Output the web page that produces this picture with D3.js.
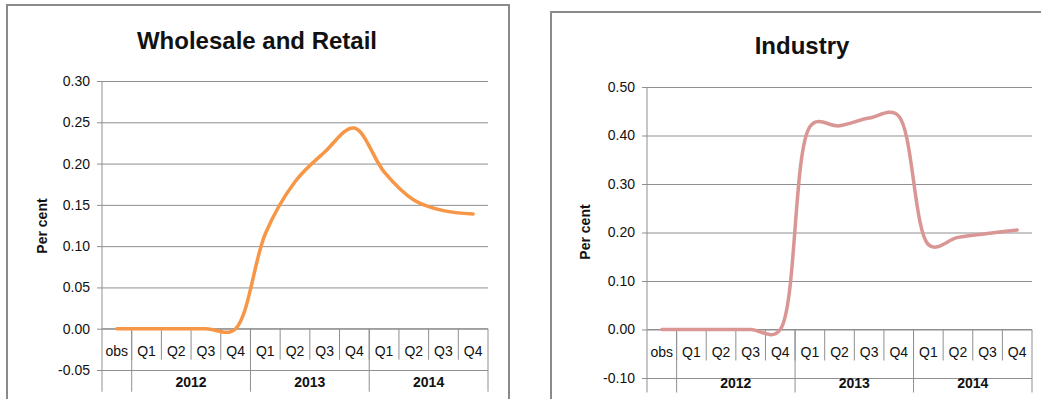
<!DOCTYPE html>
<html>
<head>
<meta charset="utf-8">
<script src="https://cdn.jsdelivr.net/npm/d3@7/dist/d3.min.js"></script>
<style>
  html, body { margin: 0; padding: 0; background: #fff; }
  svg { display: block; }
  text { font-family: "Liberation Sans", Arial, sans-serif; fill: #111; }
</style>
</head>
<body>
<svg id="chart" width="1041" height="399"></svg>
<script>
// Quarter labels on the category axis, plus the initial "obs" point
const quarters = ["obs", "Q1", "Q2", "Q3", "Q4", "Q1", "Q2", "Q3", "Q4", "Q1", "Q2", "Q3", "Q4"];
// Year groups: label and how many quarters each spans (first slot is "obs")
const years = ["", "2012", "2013", "2014"];
const yearSpans = [1, 4, 4, 4];

// Wholesale and Retail, percent
const wholesaleValues = [0.00, 0.00, 0.00, 0.00, 0.00, 0.115, 0.178, 0.214, 0.243, 0.190, 0.156, 0.143, 0.139];
const wholesaleTicks = [-0.05, 0.00, 0.05, 0.10, 0.15, 0.20, 0.25, 0.30];

// Industry, percent
const industryValues = [0.00, 0.00, 0.00, 0.00, 0.00, 0.418, 0.420, 0.436, 0.440, 0.175, 0.190, 0.198, 0.205];
const industryTicks = [-0.10, 0.00, 0.10, 0.20, 0.30, 0.40, 0.50];

const fmt = d3.formatLocale({decimal: ".", thousands: ",", grouping: [3], currency: ["", ""], minus: "-"}).format(".2f");
const svg = d3.select("#chart");
const gridColor = "#8f8f8f";

function panel(opt) {
  const g = svg.append("g");

  // outer chart frame
  g.append("rect")
    .attr("x", opt.frame[0]).attr("y", opt.frame[1])
    .attr("width", opt.frame[2]).attr("height", opt.frame[3])
    .attr("fill", "none").attr("stroke", "#8a8a8a").attr("stroke-width", 2);

  const x = d3.scaleBand().domain(d3.range(quarters.length)).range([opt.left, opt.right]).padding(0);
  const y = d3.scaleLinear().domain(opt.domain).range([opt.bottom, opt.top]);
  const y0 = y(0);

  // horizontal gridlines
  g.append("g")
    .attr("transform", `translate(${opt.left},0)`)
    .call(d3.axisLeft(y).tickValues(opt.ticks).tickSize(-(opt.right - opt.left)).tickFormat(""))
    .call(s => s.select(".domain").remove())
    .call(s => s.selectAll("line").attr("stroke", gridColor).attr("stroke-width", 1));

  // value axis with outside tick marks
  g.append("g")
    .attr("transform", `translate(${opt.left},0)`)
    .call(d3.axisLeft(y).tickValues(opt.ticks).tickSize(5).tickPadding(7).tickFormat(fmt))
    .call(s => s.select(".domain").remove())
    .call(s => s.selectAll("line").attr("stroke", gridColor))
    .call(s => s.selectAll("text").attr("font-size", 14).attr("fill", "#111")
      .style("font-family", "'Liberation Sans', Arial, sans-serif"));

  // vertical axis line, running down through the label block
  const labelRow = 31, groupRow = 63;
  g.append("line")
    .attr("x1", opt.left).attr("x2", opt.left)
    .attr("y1", opt.top).attr("y2", y0 + groupRow)
    .attr("stroke", gridColor);

  // category axis along zero
  g.append("line")
    .attr("x1", opt.left).attr("x2", opt.right)
    .attr("y1", y0).attr("y2", y0)
    .attr("stroke", gridColor);

  // quarter dividers and labels
  quarters.forEach((q, i) => {
    if (i > 0) {
      g.append("line")
        .attr("x1", x(i)).attr("x2", x(i))
        .attr("y1", y0).attr("y2", y0 + labelRow)
        .attr("stroke", gridColor);
    }
    g.append("text")
      .attr("x", x(i) + x.bandwidth() / 2)
      .attr("y", y0 + 27)
      .attr("text-anchor", "middle")
      .attr("font-size", 14)
      .text(q);
  });

  // year group dividers and labels
  let start = 0;
  years.forEach((yr, k) => {
    const end = start + yearSpans[k];
    const xEnd = end < quarters.length ? x(end) : opt.right;
    g.append("line")
      .attr("x1", xEnd).attr("x2", xEnd)
      .attr("y1", y0).attr("y2", y0 + groupRow)
      .attr("stroke", gridColor);
    if (yr) {
      g.append("text")
        .attr("x", (x(start) + xEnd) / 2)
        .attr("y", y0 + 58)
        .attr("text-anchor", "middle")
        .attr("font-size", 14)
        .attr("font-weight", "bold")
        .text(yr);
    }
    start = end;
  });

  // smoothed series line
  const line = d3.line()
    .x((d, i) => x(i) + x.bandwidth() / 2)
    .y(d => y(d))
    .curve(d3.curveCatmullRom.alpha(0.35));
  g.append("path")
    .datum(opt.values)
    .attr("d", line)
    .attr("fill", "none")
    .attr("stroke", opt.color)
    .attr("stroke-width", 3.5)
    .attr("stroke-linejoin", "round")
    .attr("stroke-linecap", "round");

  // title
  g.append("text")
    .attr("x", opt.titleX).attr("y", opt.titleY)
    .attr("text-anchor", "middle")
    .attr("font-size", 24)
    .attr("font-weight", "bold")
    .text(opt.title);

  // value axis title
  g.append("text")
    .attr("transform", `translate(${opt.yTitleX},${opt.yTitleY}) rotate(-90)`)
    .attr("text-anchor", "middle")
    .attr("font-size", 14)
    .attr("font-weight", "bold")
    .text("Per cent");
}

panel({
  title: "Wholesale and Retail", titleX: 257, titleY: 49,
  frame: [7, 5, 502, 420],
  left: 102, right: 488, top: 81, bottom: 370,
  domain: [-0.05, 0.30], ticks: wholesaleTicks,
  values: wholesaleValues, color: "#F79646",
  yTitleX: 47, yTitleY: 226
});

panel({
  title: "Industry", titleX: 802, titleY: 54,
  frame: [551, 12, 520, 420],
  left: 647, right: 1032, top: 87, bottom: 378,
  domain: [-0.10, 0.50], ticks: industryTicks,
  values: industryValues, color: "#D99694",
  yTitleX: 590, yTitleY: 232
});
</script>
</body>
</html>
